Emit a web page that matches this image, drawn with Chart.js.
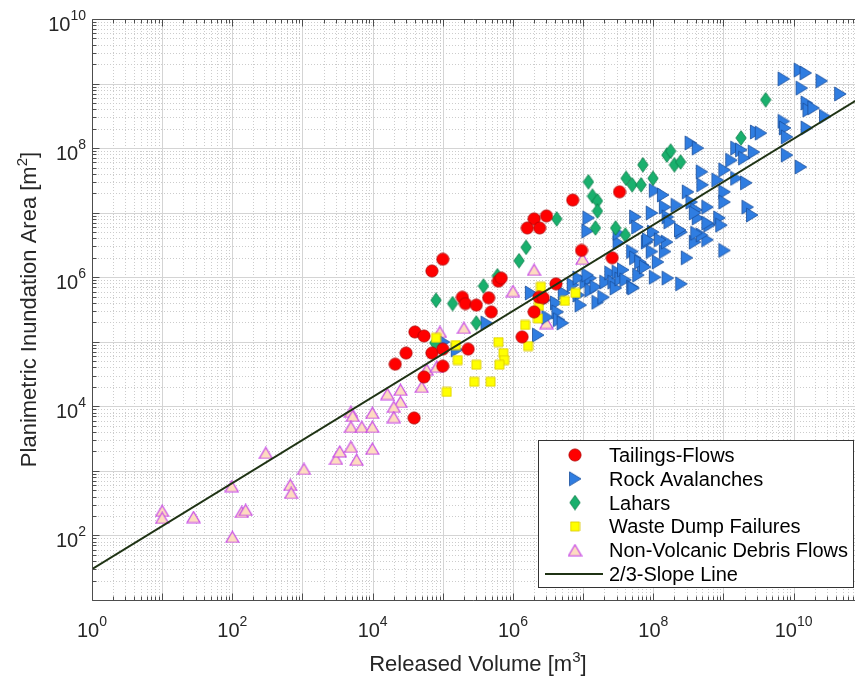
<!DOCTYPE html>
<html>
<head>
<meta charset="utf-8">
<script src="https://cdn.jsdelivr.net/npm/chart.js@4/dist/chart.umd.min.js"></script>
<style>
html, body { margin: 0; padding: 0; background: #fff; overflow: hidden; }
</style>
</head>
<body>
<canvas id="chart" width="862" height="677"></canvas>
<script>
// values: [released volume m3, inundation area m2]
const tailings = [
  [3.9e4, 6.6e3], [2.1e4, 4.5e4], [3.0e4, 6.7e4], [4.0e4, 1.42e5], [5.4e4, 1.23e5],
  [5.4e4, 2.85e4], [7.0e4, 6.7e4], [1.0e5, 7.7e4], [1.0e5, 4.2e4], [7.0e4, 1.25e6],
  [1.0e5, 1.9e6], [1.9e5, 4.9e5], [2.1e5, 3.9e5], [3.0e5, 3.7e5], [4.5e5, 4.8e5],
  [4.9e5, 2.9e5], [6.2e5, 8.7e5], [6.8e5, 9.7e5], [2.3e5, 7.7e4], [1.35e6, 1.19e5],
  [2.0e6, 2.9e5], [2.35e6, 4.9e5], [2.7e6, 4.8e5], [4.1e6, 7.9e5], [9.5e6, 2.6e6],
  [2.6e7, 2.0e6], [7.1e6, 1.57e7], [3.3e7, 2.1e7], [2.0e6, 8.0e6], [3.0e6, 8.9e6],
  [1.6e6, 5.8e6], [2.4e6, 5.8e6]
];
const rockAvalanches = [
  [1.03e5, 9.9e4], [1.58e5, 7.5e4], [4.2e5, 1.95e5], [1.8e6, 5.7e5], [2.27e6, 1.27e5],
  [3.1e6, 2.4e5], [4.1e6, 4.0e5], [4.3e6, 2.9e5], [4.5e6, 2.2e5], [5.1e6, 1.95e5],
  [5.3e6, 5.7e5], [7.1e6, 7.6e5], [8.6e6, 5.3e5], [1.08e7, 8.4e5], [1.27e7, 9.7e5],
  [1.27e7, 6.3e5], [1.5e7, 7.1e5], [1.6e7, 4.1e5], [1.94e7, 4.9e5], [2.07e7, 8.4e5],
  [2.44e7, 1.16e6], [2.7e7, 8.4e5], [2.9e7, 6.8e5], [3.1e7, 1.2e6], [3.4e7, 9.4e5],
  [3.7e7, 1.3e6], [4.0e7, 9.1e5], [5.0e7, 7.1e5], [5.0e7, 2.5e6], [5.5e7, 2.0e6],
  [7.1e7, 1.55e6], [9.5e7, 2.5e6], [1.16e8, 1.72e6], [1.05e8, 1.0e6], [1.6e8, 9.7e5],
  [2.5e8, 7.9e5], [3.0e8, 2.0e6], [1.46e8, 2.5e6], [3.2e7, 3.4e6], [8.1e7, 3.5e6],
  [1.56e8, 3.5e6], [3.9e8, 3.5e6], [5.9e8, 3.8e6], [1.15e7, 5.2e6], [1.19e7, 8.3e6],
  [3.2e7, 4.8e6], [5.5e7, 8.6e6], [5.9e7, 6.0e6], [9.5e7, 9.9e6], [9.9e7, 5.0e6],
  [1.05e8, 2.2e7], [1.37e8, 1.88e7], [1.46e8, 1.22e7], [1.6e8, 8.6e6], [1.7e8, 7.2e6],
  [2.15e8, 1.3e7], [2.5e8, 5.0e6], [3.1e8, 2.1e7], [3.5e8, 1.46e7], [4.1e8, 1.1e7],
  [4.3e8, 8.3e6], [4.9e8, 4.3e7], [5.0e8, 2.7e7], [5.9e8, 1.22e7], [6.3e8, 6.4e6],
  [4.9e8, 4.5e6], [8.2e8, 3.2e7], [8.7e8, 8.3e6], [1.03e9, 4.6e7], [1.03e9, 2.1e7],
  [1.03e9, 1.46e7], [1.52e9, 3.4e7], [2.1e9, 2.9e7], [2.2e9, 1.22e7], [2.55e9, 9.2e6],
  [1.03e9, 2.6e6], [8.4e7, 3.8e6], [1.24e8, 3.8e6], [2.4e8, 5.4e6], [4.1e8, 4.8e6],
  [9.3e8, 6.4e6], [7.2e9, 1.18e9], [1.22e10, 1.62e9], [1.48e10, 1.46e9], [2.5e10, 1.1e9],
  [1.3e10, 8.5e8], [4.6e10, 6.9e8], [1.53e10, 5.0e8], [1.63e10, 3.9e8], [1.91e10, 4.2e8],
  [2.8e10, 3.1e8], [7.2e9, 2.6e8], [7.5e9, 2.05e8], [8.0e9, 1.49e8], [1.53e10, 2.05e8],
  [8.0e9, 7.8e7], [1.26e10, 5.1e7], [2.9e9, 1.78e8], [3.4e9, 1.71e8], [1.52e9, 1.0e8],
  [1.78e9, 9.4e7], [2.7e9, 8.7e7], [1.97e9, 7.0e7], [1.29e9, 6.5e7], [3.4e8, 1.2e8],
  [4.3e8, 1.0e8], [5.9e8, 6.9e6], [3.9e8, 9.9e6], [6.1e7, 1.08e6], [8.6e6, 9.7e5],
  [1.15e7, 1.08e6], [5.2e7, 6.8e5], [6.5e7, 1.72e6], [7.6e7, 1.44e6], [2.8e6, 4.4e5],
  [9.2e6, 3.7e5]
];
const lahars = [
  [8.0e4, 4.4e5], [1.38e5, 3.9e5], [7.7e4, 9.6e4], [3.0e5, 1.95e5], [3.8e5, 7.3e5],
  [6.0e5, 1.05e6], [1.22e6, 1.8e6], [1.54e6, 2.9e6], [4.2e6, 8.0e6], [1.19e7, 3.0e7],
  [1.36e7, 1.8e7], [1.6e7, 1.52e7], [1.6e7, 1.06e7], [1.5e7, 5.8e6], [2.9e7, 5.8e6],
  [4.0e7, 4.5e6], [7.1e7, 5.5e7], [9.9e7, 3.4e7], [4.1e7, 3.4e7], [5.0e7, 2.7e7],
  [6.7e7, 2.7e7], [1.56e8, 7.8e7], [1.77e8, 9.0e7], [2.0e8, 5.5e7], [2.45e8, 6.1e7],
  [1.78e9, 1.44e8], [4.0e9, 5.6e8]
];
const wasteDumps = [
  [8.0e4, 1.15e5], [1.53e5, 8.9e4], [1.63e5, 5.2e4], [3.0e5, 4.4e4], [1.14e5, 1.67e4],
  [2.8e5, 2.4e4], [4.8e5, 2.4e4], [6.2e5, 9.9e4], [7.3e5, 6.7e4], [7.5e5, 5.2e4],
  [6.4e5, 4.4e4], [1.49e6, 1.82e5], [1.64e6, 8.6e4], [2.5e6, 7.1e5], [2.35e6, 3.6e5],
  [2.27e6, 2.3e5], [5.5e6, 4.3e5], [7.8e6, 5.7e5]
];
const debrisFlows = [
  [10, 240], [10, 187], [28, 193], [98, 580], [100, 95], [136, 231], [155, 248],
  [300, 1.9e3], [670, 605], [690, 455], [1.05e3, 1.07e3], [3.0e3, 1.53e3], [3.4e3, 2.0e3],
  [4.9e3, 2.35e3], [5.9e3, 1.48e3], [9.9e3, 2.2e3], [4.9e3, 8.2e3], [5.2e3, 7.1e3],
  [4.9e3, 4.8e3], [7.0e3, 4.8e3], [9.9e3, 4.8e3], [9.9e3, 7.9e3], [1.62e4, 1.55e4],
  [2.5e4, 1.8e4], [2.5e4, 1.17e4], [2.0e4, 9.8e3], [2.0e4, 6.8e3], [5.0e4, 2.0e4],
  [5.9e4, 3.7e4], [8.2e4, 4.1e4], [9.1e4, 1.42e5], [2.0e5, 1.64e5], [1.0e6, 6.1e5],
  [2.0e6, 1.3e6], [9.8e6, 1.92e6], [3.0e6, 1.95e5]
];
const slopeLine = [[1, 30], [1e11, 6.46e8]];

const xTickExp = [0, 2, 4, 6, 8, 10];
const yTickExp = [2, 4, 6, 8, 10];
const xMin = 1, xMax = 7.5e10, xAxisEnd = 1e11;
const yMin = 10, yMax = 1e10;

const FONT = '"Liberation Sans", Arial, Helvetica, sans-serif';
const TEXT = '#262626';
const AXIS = '#4d4d4d';

// small canvases used as point styles (matlab-like markers)
function marker(w, h, fill, stroke, lw, path) {
  var c = document.createElement('canvas');
  c.width = w; c.height = h;
  var g = c.getContext('2d');
  g.beginPath(); path(g); g.closePath();
  g.fillStyle = fill; g.fill();
  g.lineWidth = lw; g.strokeStyle = stroke; g.stroke();
  return c;
}
var mk = {
  circle: marker(14, 14, '#ff0000', '#b00000', 0.8, g => g.arc(7, 7, 6.1, 0, Math.PI * 2)),
  triRight: marker(14, 16, '#2f7de1', '#1b4f9c', 0.8, g => { g.moveTo(1.5, 1); g.lineTo(13, 8); g.lineTo(1.5, 15); }),
  diamond: marker(12, 16, '#19b06d', '#0e7d4a', 0.8, g => { g.moveTo(6, 0.7); g.lineTo(11.2, 8); g.lineTo(6, 15.3); g.lineTo(0.8, 8); }),
  square: marker(11, 11, '#ffff00', '#d9c700', 0.8, g => g.rect(1, 1, 9, 9)),
  triUp: marker(15, 13, '#fddcc0', '#c646e6', 1.2, g => { g.moveTo(7.5, 1); g.lineTo(14, 12); g.lineTo(1, 12); })
};

const pts = arr => arr.map(p => ({x: p[0], y: p[1]}));

function logMarks(lo, hi) {
  var out = [];
  for (var e = Math.floor(Math.log10(lo)); e <= Math.ceil(Math.log10(hi)); e++) {
    for (var m = 1; m <= 9; m++) {
      var v = m * Math.pow(10, e);
      if (v >= lo * 0.999 && v <= hi * 1.001) out.push({v: v, major: m === 1});
    }
  }
  return out;
}

// text followed by a raised small part, e.g. "10" + "8" or "[m" + "3" + "]"
function supText(ctx, parts, x, y, align, big, small, raise) {
  var widths = parts.map((p, i) => {
    ctx.font = (i % 2 ? small : big) + 'px ' + FONT;
    return ctx.measureText(p).width;
  });
  var total = widths.reduce((s, w) => s + w, 0);
  var left = align === 'right' ? x - total : align === 'center' ? x - total / 2 : x;
  parts.forEach((p, i) => {
    ctx.font = (i % 2 ? small : big) + 'px ' + FONT;
    ctx.fillText(p, left, i % 2 ? y - raise : y);
    left += widths[i];
  });
}

const axesPlugin = {
  id: 'axesPlugin',
  beforeDatasetsDraw(chart) {
    const {ctx, chartArea: a, scales: {x, y}} = chart;
    ctx.save();
    ctx.lineWidth = 1;
    [false, true].forEach(major => {
      ctx.strokeStyle = major ? '#d4d4d4' : '#cccccc';
      ctx.setLineDash(major ? [] : [1, 2]);
      logMarks(xMin, xMax).forEach(t => {
        if (t.major !== major || t.v <= xMin) return;
        const px = Math.round(x.getPixelForValue(t.v)) + 0.5;
        ctx.beginPath(); ctx.moveTo(px, a.top); ctx.lineTo(px, a.bottom); ctx.stroke();
      });
      logMarks(yMin, yMax).forEach(t => {
        if (t.major !== major || t.v <= yMin || t.v >= yMax) return;
        const py = Math.round(y.getPixelForValue(t.v)) + 0.5;
        ctx.beginPath(); ctx.moveTo(a.left, py); ctx.lineTo(a.right, py); ctx.stroke();
      });
    });
    ctx.restore();
  },
  afterDatasetsDraw(chart) {
    const {ctx, chartArea: a, scales: {x, y}} = chart;
    ctx.save();
    ctx.strokeStyle = AXIS;
    ctx.lineWidth = 1;
    const L = Math.round(a.left) + 0.5, B = Math.round(a.bottom) + 0.5, T = Math.round(a.top) + 0.5;
    ctx.beginPath();
    ctx.moveTo(a.right, T); ctx.lineTo(L, T); ctx.lineTo(L, B); ctx.lineTo(a.right, B);
    ctx.stroke();
    // inward ticks
    logMarks(xMin, xMax).forEach(t => {
      const px = Math.round(x.getPixelForValue(t.v)) + 0.5, len = t.major ? 7 : 4;
      ctx.beginPath();
      ctx.moveTo(px, B); ctx.lineTo(px, B - len);
      ctx.moveTo(px, T); ctx.lineTo(px, T + len);
      ctx.stroke();
    });
    logMarks(yMin, yMax).forEach(t => {
      const py = Math.round(y.getPixelForValue(t.v)) + 0.5, len = t.major ? 7 : 4;
      ctx.beginPath(); ctx.moveTo(L, py); ctx.lineTo(L + len, py); ctx.stroke();
    });
    // tick labels
    ctx.fillStyle = TEXT;
    ctx.textBaseline = 'alphabetic';
    ctx.textAlign = 'left';
    xTickExp.forEach(e => supText(ctx, ['10', String(e)], x.getPixelForValue(Math.pow(10, e)), a.bottom + 37, 'center', 20, 14, 11));
    yTickExp.forEach(e => supText(ctx, ['10', String(e)], a.left - 6, y.getPixelForValue(Math.pow(10, e)) + 12, 'right', 20, 14, 11));
    // axis titles
    const cx = (x.getPixelForValue(xMin) + x.getPixelForValue(xAxisEnd)) / 2;
    supText(ctx, ['Released Volume [m', '3', ']'], cx, a.bottom + 71, 'center', 22, 15, 9);
    ctx.translate(36, (a.top + a.bottom) / 2);
    ctx.rotate(-Math.PI / 2);
    supText(ctx, ['Planimetric Inundation Area [m', '2', ']'], 0, 0, 'center', 22, 15, 9);
    ctx.restore();
  },
  afterDraw(chart) {
    const ctx = chart.ctx;
    const entries = chart.data.datasets.slice().sort((p, q) => p.legendRank - q.legendRank);
    ctx.save();
    ctx.fillStyle = '#fff';
    ctx.strokeStyle = '#333';
    ctx.lineWidth = 1;
    ctx.fillRect(538.5, 440.5, 315, 147);
    ctx.strokeRect(538.5, 440.5, 315, 147);
    ctx.font = '20px ' + FONT;
    ctx.textAlign = 'left';
    ctx.textBaseline = 'alphabetic';
    entries.forEach((ds, i) => {
      const cy = 455 + i * 23.8;
      if (ds.showLine) {
        ctx.strokeStyle = ds.borderColor;
        ctx.lineWidth = ds.borderWidth;
        ctx.beginPath(); ctx.moveTo(545, cy); ctx.lineTo(603, cy); ctx.stroke();
      } else {
        const img = ds.pointStyle;
        ctx.drawImage(img, 575 - img.width / 2, cy - img.height / 2);
      }
      ctx.fillStyle = '#000';
      ctx.fillText(ds.label, 609, cy + 7);
    });
    ctx.restore();
  }
};

new Chart(document.getElementById('chart'), {
  type: 'scatter',
  data: {
    datasets: [
      {label: '2/3-Slope Line', data: pts(slopeLine), showLine: true, borderColor: '#1f3314',
       borderWidth: 2, pointRadius: 0, order: 0, legendRank: 5},
      {label: 'Tailings-Flows', data: pts(tailings), pointStyle: mk.circle, pointRadius: 6, order: 1, legendRank: 0},
      {label: 'Waste Dump Failures', data: pts(wasteDumps), pointStyle: mk.square, pointRadius: 6, order: 2, legendRank: 3},
      {label: 'Lahars', data: pts(lahars), pointStyle: mk.diamond, pointRadius: 6, order: 3, legendRank: 2},
      {label: 'Rock Avalanches', data: pts(rockAvalanches), pointStyle: mk.triRight, pointRadius: 6, order: 4, legendRank: 1},
      {label: 'Non-Volcanic Debris Flows', data: pts(debrisFlows), pointStyle: mk.triUp, pointRadius: 6, order: 5, legendRank: 4}
    ]
  },
  options: {
    responsive: false,
    animation: false,
    layout: {padding: {left: 92, top: 19, right: 0, bottom: 77}},
    scales: {
      x: {type: 'logarithmic', min: xMin, max: xMax, display: false},
      y: {type: 'logarithmic', min: yMin, max: yMax, display: false}
    },
    plugins: {legend: {display: false}, tooltip: {enabled: false}}
  },
  plugins: [axesPlugin]
});
</script>
</body>
</html>
